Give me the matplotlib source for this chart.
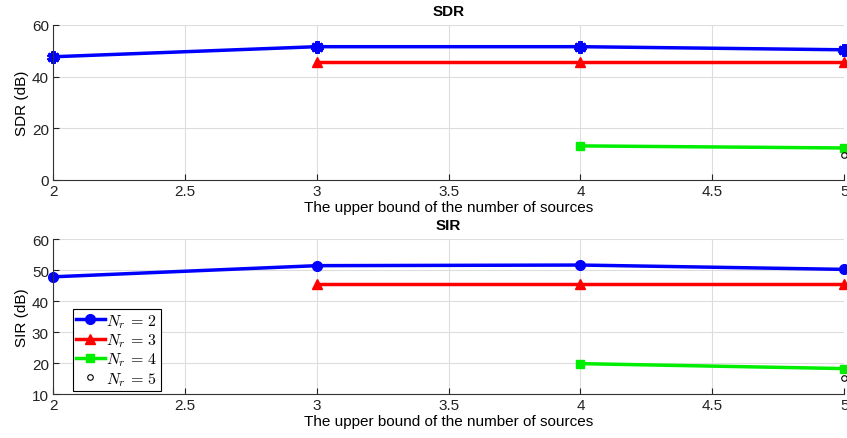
import matplotlib.pyplot as plt

plt.rcParams['font.family'] = ['Liberation Sans', 'DejaVu Sans']
plt.rcParams['mathtext.fontset'] = 'cm'

# number of sources (x) for each N_r curve
x_nr2 = [2, 3, 4, 5]
x_nr3 = [3, 4, 5]
x_nr4 = [4, 5]
x_nr5 = [5]

sdr_nr2 = [47.7, 51.6, 51.6, 50.4]
sdr_nr3 = [45.7, 45.7, 45.7]
sdr_nr4 = [13.2, 12.4]
sdr_nr5 = [9.7]

sir_nr2 = [47.8, 51.4, 51.6, 50.2]
sir_nr3 = [45.6, 45.6, 45.6]
sir_nr4 = [19.8, 18.2]
sir_nr5 = [15.3]

labels = [r'$N_r\,=\,2$', r'$N_r\,=\,3$', r'$N_r\,=\,4$', r'$N_r\,=\,5$']
xticks = [2, 2.5, 3, 3.5, 4, 4.5, 5]

fig = plt.figure(figsize=(8.47, 4.39), dpi=100)
ax1 = fig.add_axes([0.0626, 0.5877, 0.934, 0.3531])
ax2 = fig.add_axes([0.0626, 0.1002, 0.934, 0.3531])


def style(ax, ylim, yticks, title, ylabel):
    ax.set_xlim(2, 5)
    ax.set_ylim(*ylim)
    ax.set_xticks(xticks)
    ax.set_xticklabels(['2', '2.5', '3', '3.5', '4', '4.5', '5'])
    ax.set_yticks(yticks)
    ax.grid(True, color='#dddddd', linewidth=0.8)
    ax.set_axisbelow(True)
    for s in ['top', 'right']:
        ax.spines[s].set_visible(False)
    for s in ['left', 'bottom']:
        ax.spines[s].set_color('#333333')
    ax.tick_params(direction='in', length=4, labelsize=11, colors='#222222', pad=3)
    ax.set_title(title, fontsize=11, fontweight='bold', pad=7)
    ax.set_ylabel(ylabel, fontsize=11, labelpad=2)
    ax.set_xlabel('The upper bound of the number of sources', fontsize=11, labelpad=1)


lw = 2.5
ax1.plot(x_nr2, sdr_nr2, color='blue', lw=lw, marker=(6, 2, 0), ms=9, mew=3, label=labels[0], clip_on=False)
ax1.plot(x_nr3, sdr_nr3, color='red', lw=lw, marker='^', ms=7, label=labels[1], clip_on=False)
ax1.plot(x_nr4, sdr_nr4, color='#00ee00', lw=lw, marker='s', ms=6, label=labels[2], clip_on=False)
ax1.plot(x_nr5, sdr_nr5, color='black', lw=0, marker='o', ms=4, mfc='white', mew=0.8, label=labels[3], clip_on=False)
style(ax1, (0, 60), [0, 20, 40, 60], 'SDR', 'SDR (dB)')

ax2.plot(x_nr2, sir_nr2, color='blue', lw=lw, marker='o', ms=7, label=labels[0], clip_on=False)
ax2.plot(x_nr3, sir_nr3, color='red', lw=lw, marker='^', ms=7, label=labels[1], clip_on=False)
ax2.plot(x_nr4, sir_nr4, color='#00ee00', lw=lw, marker='s', ms=6, label=labels[2], clip_on=False)
ax2.plot(x_nr5, sir_nr5, color='black', lw=0, marker='o', ms=4, mfc='white', mew=0.8, label=labels[3], clip_on=False)
style(ax2, (10, 60), [10, 20, 30, 40, 50, 60], 'SIR', 'SIR (dB)')

leg = ax2.legend(loc='lower left', bbox_to_anchor=(0.025, 0.02), fontsize=11.5, frameon=True,
                 fancybox=False, edgecolor='black', framealpha=1, handlelength=1.8,
                 handletextpad=0.1, borderpad=0.2, labelspacing=0.1, borderaxespad=0)
leg.get_frame().set_linewidth(0.8)

fig.savefig('out.png', dpi=100)
